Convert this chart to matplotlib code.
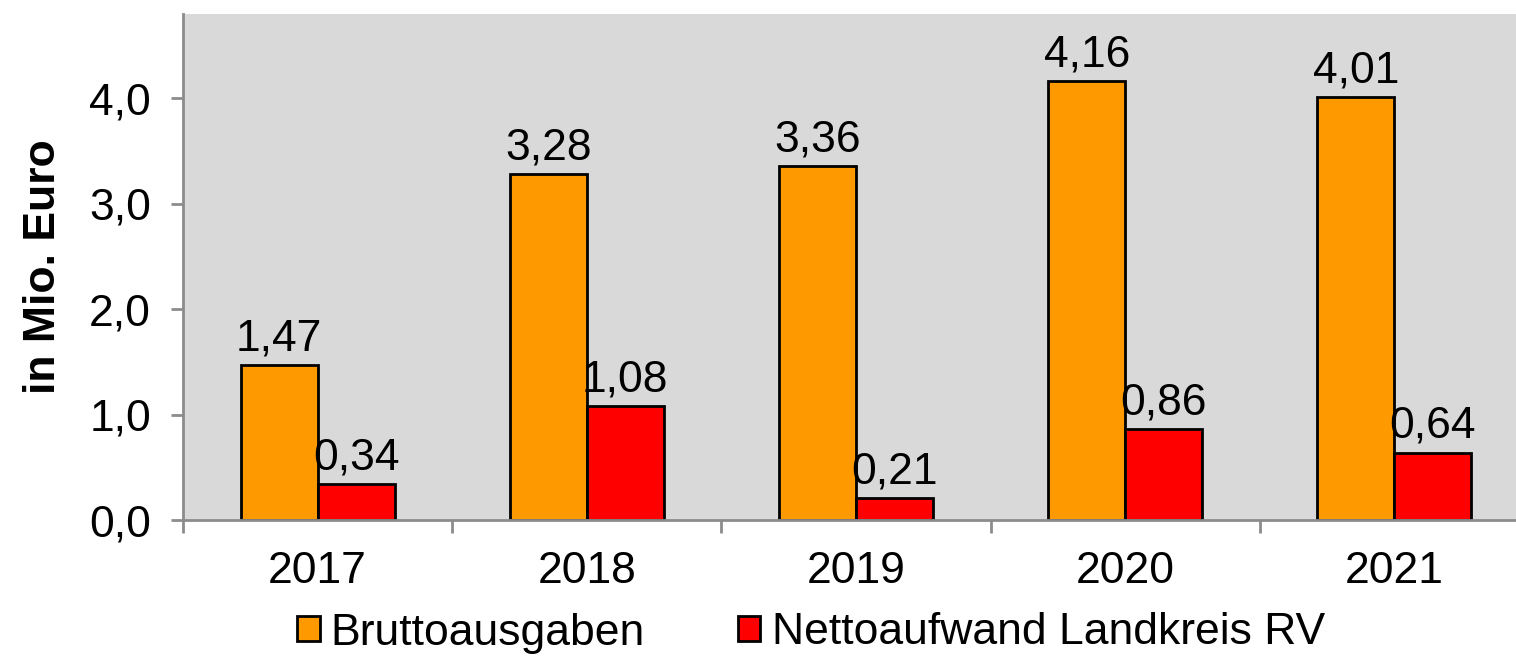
import matplotlib
matplotlib.use("Agg")
import matplotlib.pyplot as plt
import numpy as np
from matplotlib.ticker import FixedLocator, FuncFormatter

years = ["2017", "2018", "2019", "2020", "2021"]
brutto = [1.47, 3.28, 3.36, 4.16, 4.01]
netto = [0.34, 1.08, 0.21, 0.86, 0.64]
series_names = ["Bruttoausgaben", "Nettoaufwand Landkreis RV"]
yticks = [0.0, 1.0, 2.0, 3.0, 4.0]

plt.rcParams['font.family'] = ['Liberation Sans', 'DejaVu Sans']

FS = 32
fig = plt.figure(figsize=(15.16, 6.61), dpi=100)
ax = fig.add_axes([183/1516, 1-520/661, 1346/1516, (520-14)/661])
ax.set_facecolor('#D9D9D9')

x = np.arange(len(years))
w = 0.286
b1 = ax.bar(x - w/2, brutto, w, color='#FF9900', edgecolor='black', linewidth=2.0, label=series_names[0], zorder=3)
b2 = ax.bar(x + w/2, netto, w, color='#FF0000', edgecolor='black', linewidth=2.0, label=series_names[1], zorder=3)

for bars, vals in ((b1, brutto), (b2, netto)):
    for r, v in zip(bars, vals):
        ax.annotate(f"{v:.2f}".replace('.', ','), (r.get_x() + r.get_width()/2, v),
                    xytext=(0, 4), textcoords='offset points', ha='center', va='bottom',
                    fontsize=FS, color='black', zorder=4)

ax.set_xlim(-0.5, len(years) - 0.5)
ax.set_ylim(0, 4.8)
ax.set_yticks(yticks)
ax.yaxis.set_major_formatter(FuncFormatter(lambda v, p: f"{v:.1f}".replace('.', ',')))
ax.set_xticks(x)
ax.set_xticklabels(years)
ax.xaxis.set_minor_locator(FixedLocator(np.arange(-0.5, len(years), 1.0)))

for s in ('top', 'right'):
    ax.spines[s].set_visible(False)
for s in ('left', 'bottom'):
    ax.spines[s].set_color('#8C8C8C')
    ax.spines[s].set_linewidth(2)
    ax.spines[s].set_zorder(5)

ax.tick_params(axis='y', which='major', length=9, width=2, color='#8C8C8C', labelsize=FS, pad=14)
ax.tick_params(axis='x', which='major', length=0, labelsize=FS, pad=22)
ax.tick_params(axis='x', which='minor', length=9, width=2, color='#8C8C8C')

ax.set_ylabel("in Mio. Euro", fontsize=32, fontweight='bold', labelpad=18)

fig.legend(handles=[b1, b2], labels=series_names, loc='center',
           bbox_to_anchor=(811/1516, 1-633/661), ncol=2, frameon=False,
           fontsize=FS, handlelength=0.5, handleheight=0.5, handletextpad=0.25,
           columnspacing=2.1, borderaxespad=0)

fig.savefig("out.png", dpi=100)
